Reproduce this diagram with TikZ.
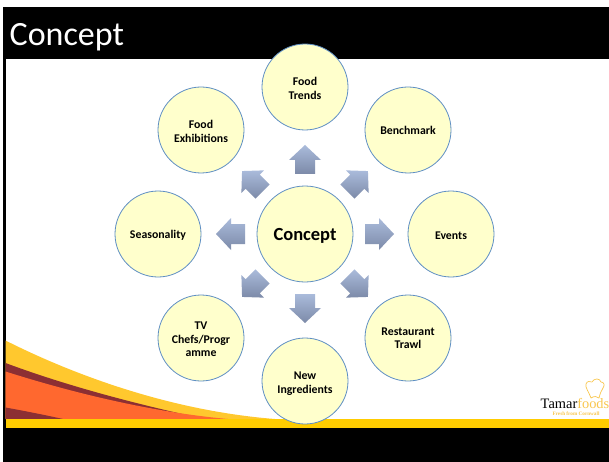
\documentclass[tikz,border=0pt]{standalone}
\usepackage{fontspec}
\setmainfont{Carlito}
\newfontfamily\logofont{Liberation Serif}
\definecolor{cfill}{HTML}{FFFFCC}
\definecolor{cline}{HTML}{5F8FC4}
\definecolor{atop}{HTML}{AABBDB}
\definecolor{abot}{HTML}{7C8AA8}
\definecolor{bandy}{HTML}{FFCC00}
\definecolor{swy}{HTML}{FFC82E}
\definecolor{swr}{HTML}{8C2F33}
\definecolor{swo}{HTML}{FF682F}
\definecolor{gold}{HTML}{F9C74F}
\tikzset{
  small/.style={circle,draw=cline,line width=0.8pt,fill=cfill,minimum size=86pt,inner sep=0pt,align=center,font=\fontsize{11.8}{13.5}\selectfont\bfseries,text=black},
  big/.style={circle,draw=cline,line width=0.8pt,fill=cfill,minimum size=96pt,inner sep=0pt,text height=15pt,text depth=2pt,font=\fontsize{18.5}{22}\selectfont\bfseries},
  blockarrow/.style={top color=atop,bottom color=abot,draw=none},
}
\newcommand{\lw}[1]{\rule{0pt}{#1pt}}
\newcommand{\blockarr}[1]{%
  \shade[blockarrow,shift={(305,234)},rotate=#1]
    (60,-10)--(74,-10)--(74,-16)--(89,0)--(74,16)--(74,10)--(60,10)--cycle;}
\begin{document}
\begin{tikzpicture}[x=1pt,y=-1pt]
\useasboundingbox (0,0) rectangle (609,462);
\fill[white] (0,0) rectangle (609,462);
% frame
\fill[black] (3,7) rectangle (609,59);
\fill[black] (3,59) rectangle (5.5,428);
\fill[black] (3,428) rectangle (609,462);
\node[anchor=base west,text=white,font=\fontsize{34}{36}\selectfont,inner sep=0pt] (title) at (9.5,46) {Concept};
% swooshes
\fill[swy] (5.5,340.5) .. controls (60,368) and (160,410) .. (275,419) -- (5.5,419) -- cycle;
\fill[swr] (5.5,363) .. controls (70,387) and (140,405) .. (205,419) -- (5.5,419) -- cycle;
\fill[swo] (5.5,371.5) .. controls (70,392) and (150,412) .. (228,419) -- (5.5,419) -- cycle;
\fill[swr] (5.5,407.5) .. controls (25,411) and (45,415) .. (63,419) -- (5.5,419) -- cycle;
\fill[bandy] (5.5,419) rectangle (609,428);
% arrows
\blockarr{0}\blockarr{45}\blockarr{90}\blockarr{135}\blockarr{180}\blockarr{225}\blockarr{270}\blockarr{315}
% circles
\node[big] (c) at (305,234) {Concept};
\node[small] (n1) at (305,87) {\lw{11}Food\\Trends};
\node[small] (n2) at (408,130) {Benchmark};
\node[small] (n3) at (451,234) {\lw{11}Events};
\node[small] (n4) at (408,338) {Restaurant\\Trawl};
\node[small] (n5) at (305,381) {\lw{13}New\\Ingredients};
\node[small] (n6) at (201,338) {\lw{11}TV\\Chefs/Progr\\amme};
\node[small] (n7) at (158,234) {\lw{11}Seasonality};
\node[small] (n8) at (201,130) {\lw{11}Food\\Exhibitions};
% logo
\node[anchor=base west,inner sep=0pt,font=\logofont\fontsize{14.4}{16}\selectfont] (logo) at (540.5,408) {Tamar\textcolor{gold}{foods}};
\node[anchor=base,inner sep=0pt,text=gold,font=\logofont\bfseries\fontsize{5.2}{6}\selectfont] (tag) at (576,415) {Fresh from Cornwall};
\draw[gold,line width=0.7pt,line join=round] (591,398) .. controls (589,392) and (585,388) .. (586,384) .. controls (587,381) and (590,381) .. (592,382) .. controls (594,378) and (600,378) .. (601,382) .. controls (604,382) and (605,385) .. (603,388) .. controls (601,391) and (600,394) .. (599,398) .. controls (597,396) and (594,396) .. (591,398) -- cycle;
\end{tikzpicture}
\end{document}
